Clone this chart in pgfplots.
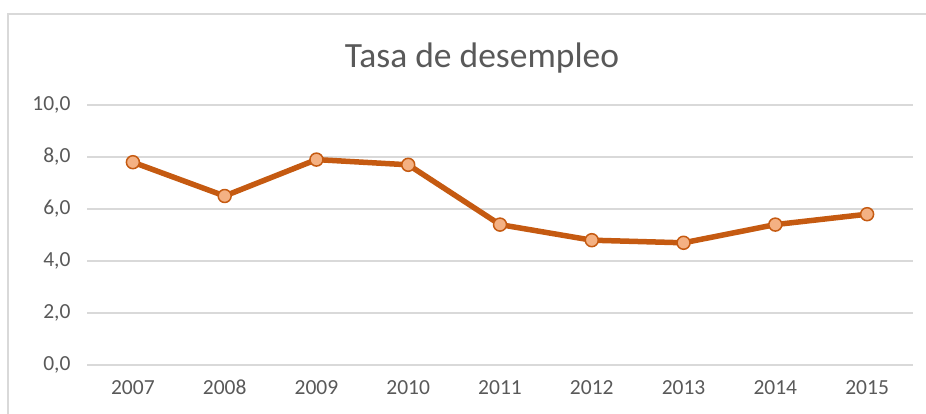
\documentclass[border=0pt]{standalone}
\usepackage{fontspec}
\setmainfont{Carlito}
\usepackage{pgfplots}
\pgfplotsset{compat=1.18}
\definecolor{ln}{HTML}{C55A11}
\definecolor{mk}{HTML}{F4B183}
\definecolor{gr}{HTML}{D9D9D9}
\definecolor{tx}{HTML}{595959}
\begin{document}
\begin{tikzpicture}[x=1pt,y=1pt]
\useasboundingbox (0,0) rectangle (926,414);
\draw[gr, line width=2pt] (8,0) -- (8,400) -- (926,400);
\node[tx, font=\fontsize{35.5}{42}\selectfont] at (482,356) {Tasa de desempleo};
\begin{axis}[
  at={(87pt,49pt)}, anchor=south west, scale only axis,
  width=826pt, height=260pt,
  xmin=-0.5, xmax=8.5, ymin=0, ymax=10,
  ytick={0,2,4,6,8,10},
  xtick={0,...,8},
  xticklabels={2007,2008,2009,2010,2011,2012,2013,2014,2015},
  axis line style={draw=none},
  major tick length=0pt,
  ymajorgrids, grid style={gr, line width=1.5pt},
  tick label style={tx, font=\fontsize{21.5}{26}\selectfont},
  /pgf/number format/assume math mode=true,
  yticklabel style={xshift=-13pt, /pgf/number format/.cd, fixed, fixed zerofill, precision=1, use comma},
  xticklabel style={anchor=north, text height=14pt, text depth=0pt, yshift=-12pt},
  clip=false,
]
\addplot[ln, line width=5.5pt, line join=round, mark=*, mark size=6.5pt,
  mark options={fill=mk, draw=ln, line width=1.5pt}]
  coordinates {(0,7.8) (1,6.5) (2,7.9) (3,7.7) (4,5.4) (5,4.8) (6,4.7) (7,5.4) (8,5.8)};
\end{axis}
\end{tikzpicture}
\end{document}
